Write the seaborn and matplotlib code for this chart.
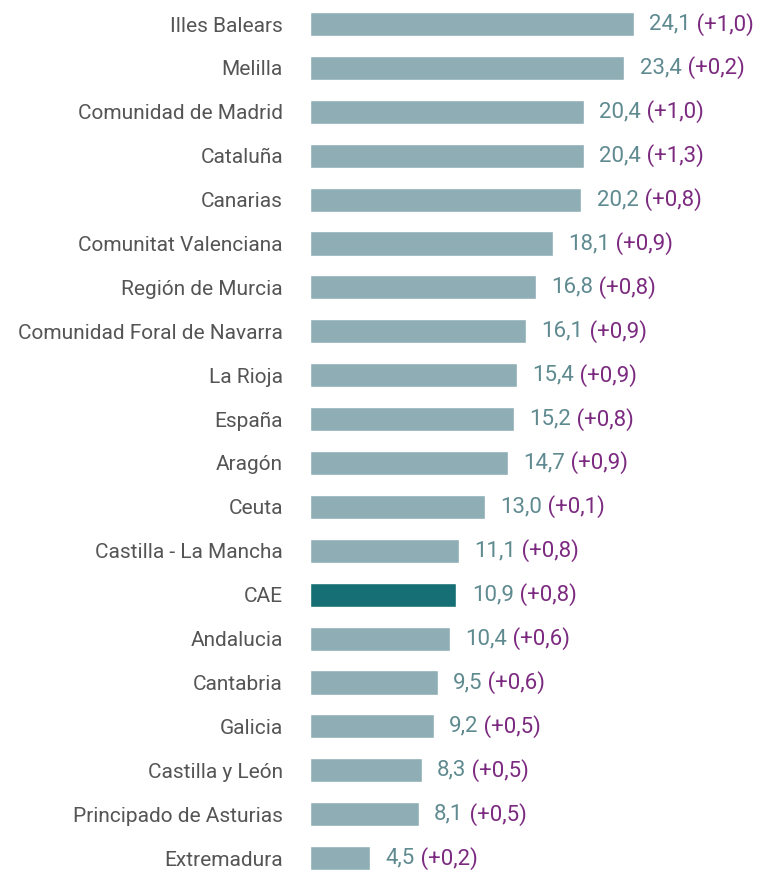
import seaborn as sns
import pandas as pd
import matplotlib.pyplot as plt

regions = ["Illes Balears", "Melilla", "Comunidad de Madrid", "Cataluña", "Canarias",
           "Comunitat Valenciana", "Región de Murcia", "Comunidad Foral de Navarra",
           "La Rioja", "España", "Aragón", "Ceuta", "Castilla - La Mancha", "CAE",
           "Andalucia", "Cantabria", "Galicia", "Castilla y León",
           "Principado de Asturias", "Extremadura"]
values = [24.1, 23.4, 20.4, 20.4, 20.2, 18.1, 16.8, 16.1, 15.4, 15.2, 14.7, 13.0,
          11.1, 10.9, 10.4, 9.5, 9.2, 8.3, 8.1, 4.5]
changes = [1.0, 0.2, 1.0, 1.3, 0.8, 0.9, 0.8, 0.9, 0.9, 0.8, 0.9, 0.1,
           0.8, 0.8, 0.6, 0.6, 0.5, 0.5, 0.5, 0.2]
highlight = "CAE"

sns.set_theme(style="white")
plt.rcParams["font.family"] = ["Roboto", "DejaVu Sans"]

df = pd.DataFrame({"region": regions, "value": values})
df["grp"] = ["hi" if r == highlight else "lo" for r in regions]

fig = plt.figure(figsize=(7.6, 8.73), dpi=100)
ax = fig.add_axes([310 / 760, 0, 1 - 310 / 760, 1])
sns.barplot(data=df, x="value", y="region", hue="grp", dodge=False, legend=False,
            palette={"hi": "#156f74", "lo": "#8fadb4"}, width=0.55, ax=ax,
            saturation=1)

ax.set_xlim(0, 450 / 13.44)
ax.set_ylim(19.34, -0.547)
ax.set_xlabel("")
ax.set_ylabel("")
ax.set_xticks([])
# pad in points: ~27 px gap between label and bars
ax.tick_params(axis="y", length=0, pad=19.5, labelsize=15, labelcolor="#555555")
for s in ax.spines.values():
    s.set_visible(False)

for i, (v, c) in enumerate(zip(values, changes)):
    t = ax.annotate(f"{v:.1f}".replace(".", ","), (v, i), xytext=(11, 0),
                    textcoords="offset points", va="center", ha="left",
                    fontsize=16, color="#5f8a90")
    ax.annotate(f" (+{c:.1f})".replace(".", ","), xycoords=t, xy=(1, 0.5),
                va="center", ha="left", fontsize=16, color="#7b2a80")

fig.savefig("out.png", dpi=100)
